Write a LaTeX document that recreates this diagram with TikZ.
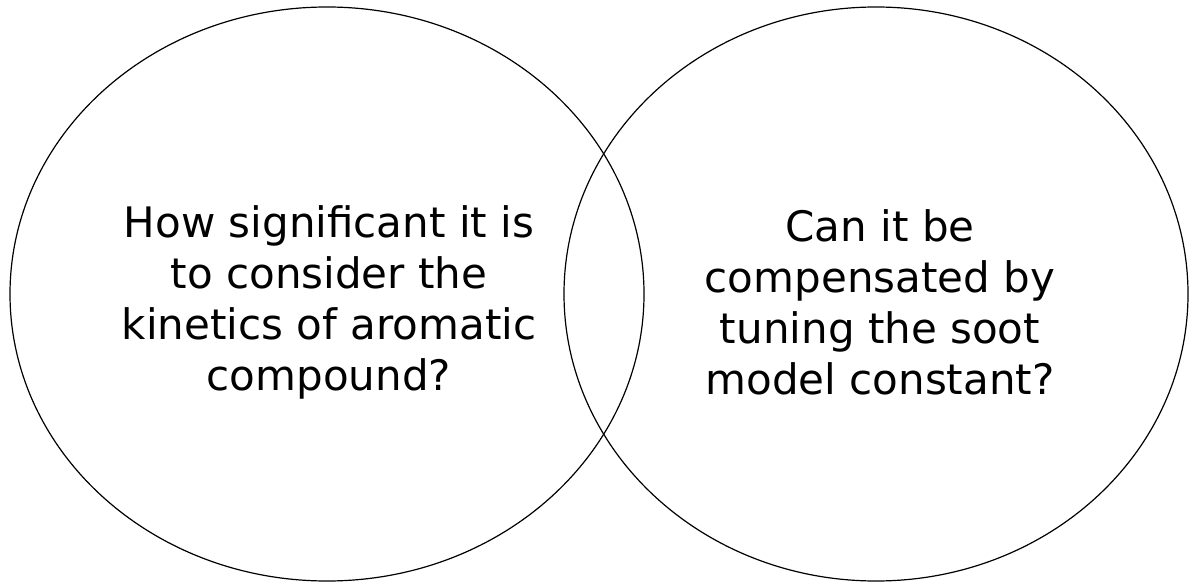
\documentclass[tikz,border=0pt]{standalone}
\usepackage{fontspec}
\setmainfont{DejaVu Sans}
\usepackage{tikz}
\usetikzlibrary{shapes.geometric, positioning}

\begin{document}
\begin{tikzpicture}[
    x=1pt, y=1pt,
    circ/.style={draw, line width=1.2pt, ellipse, inner sep=0pt,
                 minimum width=634pt, minimum height=574pt},
    question/.style={align=center, inner sep=0pt,
                     font=\fontsize{42}{51}\selectfont}
]
    \useasboundingbox (0,0) rectangle (1190,584);

    % --- Left question ---
    \node[circ] (left) at (327, 290) {};
    \node[question] (kinetics) at (329, 282)
        {How significant it is\\to consider the\\kinetics of aromatic\\compound?};

    % --- Right question ---
    \node[circ, minimum width=624pt] (right) at (876, 290) {};
    \node[question] (tuning) at (880, 282)
        {Can it be\\compensated by\\tuning the soot\\model constant?};
\end{tikzpicture}
\end{document}
